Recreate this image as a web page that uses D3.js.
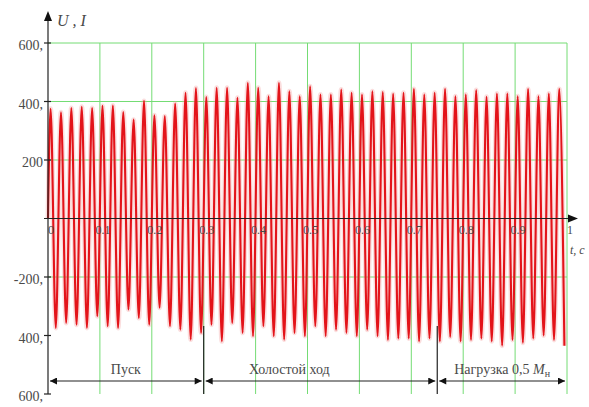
<!DOCTYPE html>
<html lang="ru">
<head>
<meta charset="UTF-8"/>
<title>U, I</title>
<script src="https://d3js.org/d3.v7.min.js"></script>
<style>
body { margin: 0; background: #fff; }
svg { display: block; }
text { font-family: 'Liberation Serif', 'Times New Roman', Tinos, 'DejaVu Serif', serif; fill: #4a4a4a; }
.grid line { stroke: #74dc74; stroke-width: 1; }
.axis { stroke: #222; stroke-width: 1.2; fill: none; }
.arrowhead { fill: #111; }
.signal-glow { fill: none; stroke: #f4a0a0; stroke-width: 5; stroke-opacity: 0.35; }
.signal { fill: none; stroke: #e3141a; stroke-width: 2.1; }
.y-label { font-size: 14px; }
.x-label { font-size: 12px; }
.phase { font-size: 14px; }
.var { font-style: italic; }
</style>
</head>
<body>
<svg width="589" height="407"></svg>
<script>
// amplitude of each positive half-wave (50 Hz, 50 periods over 1 s)
const peaks = [375, 363, 378, 382, 378, 385, 386, 364, 338, 402,
               353, 350, 393, 430, 446, 415, 447, 447, 413, 464,
               447, 418, 464, 435, 418, 452, 424, 424, 441, 430,
               424, 435, 432, 426, 430, 443, 424, 430, 443, 418,
               424, 439, 416, 427, 427, 418, 443, 418, 427, 443];
// amplitude of each negative half-wave
const troughs = [-374, -357, -363, -374, -334, -368, -374, -311, -340, -363,
                 -305, -368, -380, -414, -391, -363, -420, -357, -391, -402,
                 -368, -402, -414, -391, -402, -368, -402, -380, -391, -402,
                 -380, -402, -415, -410, -410, -420, -410, -420, -405, -420,
                 -415, -410, -420, -435, -415, -425, -410, -400, -415, -435];
const period = 0.02;

const xTicks = [0, 0.1, 0.2, 0.3, 0.4, 0.5, 0.6, 0.7, 0.8, 0.9, 1];
const xTickLabels = ['0', '0.1', '0.2', '0.3', '0.4', '0.5', '0.6', '0.7', '0.8', '0.9', '1'];
const yTicks = [600, 400, 200, -200, -400, -600];
const yTickLabels = ['600,', '400,', '200', '-200,', '400,', '600,'];
const yGrid = [600, 400, 200, -200];

const phaseNames = ['Пуск', 'Холостой ход', 'Нагрузка 0,5 '];
const phaseStart = [0, 0.3, 0.75];
const phaseEnd = [0.3, 0.75, 1];
const phaseLabelAt = [0.15, 0.465, 0.875];

// signal points: zero at start, then alternating extremes
const series = [{ t: 0, v: 0 }];
peaks.forEach((p, i) => {
  series.push({ t: period * (i + 0.25), v: p });
  series.push({ t: period * (i + 0.75), v: troughs[i] });
});

const svg = d3.select('svg');

const x = d3.scaleLinear().domain([0, 1]).range([48, 567]);
const y = d3.scaleLinear().domain([-600, 600]).range([394, 43]);

// green grid
const grid = svg.append('g').attr('class', 'grid');
grid.selectAll('.v')
  .data(xTicks.slice(1))
  .enter().append('line')
  .attr('x1', d => x(d)).attr('x2', d => x(d))
  .attr('y1', y(600)).attr('y2', y(-600));
grid.selectAll('.h')
  .data(yGrid)
  .enter().append('line')
  .attr('x1', x(0)).attr('x2', x(1))
  .attr('y1', d => y(d)).attr('y2', d => y(d));

// signal
const line = d3.line()
  .x(d => x(d.t))
  .y(d => y(d.v))
  .curve(d3.curveMonotoneX);

svg.append('path').datum(series).attr('class', 'signal-glow').attr('d', line);
svg.append('path').datum(series).attr('class', 'signal').attr('d', line);

// axes
svg.append('line').attr('class', 'axis')
  .attr('x1', 44).attr('x2', 570)
  .attr('y1', y(0)).attr('y2', y(0));
svg.append('path').attr('class', 'arrowhead')
  .attr('d', `M568,${y(0) - 4}L578,${y(0)}L568,${y(0) + 4}Z`);

svg.append('line').attr('class', 'axis')
  .attr('x1', x(0)).attr('x2', x(0))
  .attr('y1', y(-600)).attr('y2', 20);
svg.append('path').attr('class', 'arrowhead')
  .attr('d', `M${x(0) - 4},21L${x(0)},11L${x(0) + 4},21Z`);

svg.selectAll('.ytick')
  .data(yTicks)
  .enter().append('line')
  .attr('class', 'axis')
  .attr('x1', x(0) - 4).attr('x2', x(0) + 3)
  .attr('y1', d => y(d)).attr('y2', d => y(d));

svg.selectAll('.ylab')
  .data(yTicks)
  .enter().append('text')
  .attr('class', 'y-label')
  .attr('x', 43)
  .attr('y', d => y(d) + 7)
  .attr('text-anchor', 'end')
  .text((d, i) => yTickLabels[i]);

svg.selectAll('.xlab')
  .data(xTicks)
  .enter().append('text')
  .attr('class', 'x-label')
  .attr('x', d => x(d) + 3)
  .attr('y', y(0) + 15)
  .attr('text-anchor', 'middle')
  .text((d, i) => xTickLabels[i]);

svg.append('text')
  .attr('class', 'var')
  .attr('x', 57).attr('y', 26)
  .style('font-size', '16px')
  .text('U , I');

svg.append('text')
  .attr('class', 'var')
  .attr('x', 570).attr('y', 254)
  .style('font-size', '12px')
  .text('t, c');

// phases of the run
const defs = svg.append('defs');
defs.append('marker')
  .attr('id', 'arr')
  .attr('viewBox', '0 0 10 10')
  .attr('refX', 10).attr('refY', 5)
  .attr('markerWidth', 8).attr('markerHeight', 7)
  .attr('markerUnits', 'userSpaceOnUse')
  .attr('orient', 'auto-start-reverse')
  .append('path').attr('d', 'M0,0L10,5L0,10Z').attr('fill', '#111');

const arrowY = 381;
svg.selectAll('.phase-line')
  .data(phaseNames)
  .enter().append('line')
  .attr('class', 'axis')
  .attr('x1', (d, i) => x(phaseStart[i]) + 2)
  .attr('x2', (d, i) => x(phaseEnd[i]) - 2)
  .attr('y1', arrowY).attr('y2', arrowY)
  .attr('marker-start', 'url(#arr)')
  .attr('marker-end', 'url(#arr)');

svg.selectAll('.divider')
  .data(phaseStart.slice(1))
  .enter().append('line')
  .attr('class', 'axis')
  .attr('x1', d => x(d)).attr('x2', d => x(d))
  .attr('y1', 326).attr('y2', 394);

const labels = svg.selectAll('.phase')
  .data(phaseNames)
  .enter().append('text')
  .attr('class', 'phase')
  .attr('x', (d, i) => x(phaseLabelAt[i]))
  .attr('y', 374)
  .attr('text-anchor', 'middle')
  .text(d => d);

labels.filter((d, i) => i === 2).each(function () {
  const t = d3.select(this);
  t.append('tspan').attr('class', 'var').text('M');
  t.append('tspan').attr('dy', 3).style('font-size', '10px').text('н');
});
</script>
</body>
</html>
